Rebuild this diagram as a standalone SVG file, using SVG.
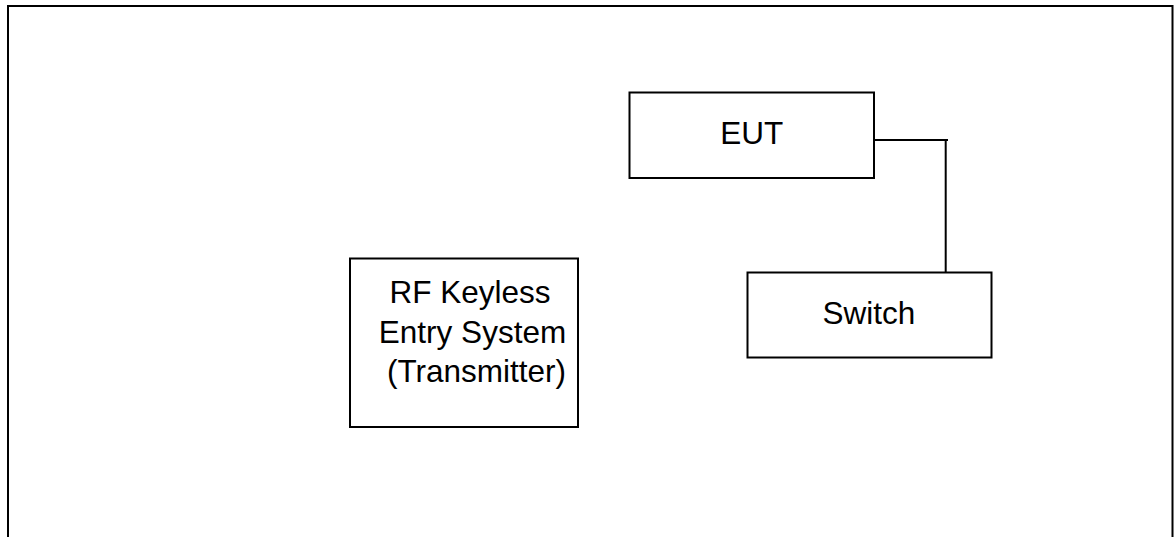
<svg xmlns="http://www.w3.org/2000/svg" width="1174" height="537" viewBox="0 0 1174 537">
<style>
.box{fill:#fff;stroke:#000;stroke-width:2}
.lbl{font-family:"Liberation Sans",Arial,sans-serif;font-size:31.5px;fill:#000;text-anchor:middle}
.wire{fill:none;stroke:#000;stroke-width:2}
</style>
<rect width="1174" height="537" fill="#fff"/>
<path d="M8,537 V6 H1172.5 V537" fill="none" stroke="#000" stroke-width="2"/>
<g id="connectors">
<path class="wire" d="M874,140 H948 M945.7,140 V272"/>
</g>
<g id="eut">
<rect class="box" x="629.5" y="92.5" width="244.5" height="85.5"/>
<text class="lbl" x="751.7" y="144">EUT</text>
</g>
<g id="switch">
<rect class="box" x="747.5" y="272.5" width="244" height="85"/>
<text class="lbl" x="869" y="324">Switch</text>
</g>
<g id="rf">
<rect class="box" x="350" y="258.5" width="228" height="168.5"/>
<text class="lbl" x="470" y="302.5">RF Keyless</text>
<text class="lbl" x="472.5" y="342.5">Entry System</text>
<text class="lbl" x="476.5" y="381.5">(Transmitter)</text>
</g>
</svg>
